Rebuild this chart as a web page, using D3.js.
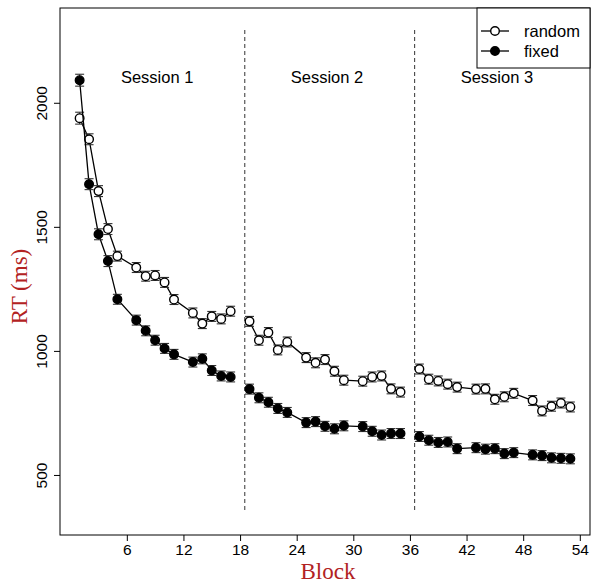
<!DOCTYPE html>
<html>
<head>
<meta charset="utf-8">
<script src="https://cdn.jsdelivr.net/npm/d3@7"></script>
<style>
  body { margin: 0; background: #fff; }
  svg text { font-family: "Liberation Sans", Arial, sans-serif; }
</style>
</head>
<body>
<div id="chart"></div>
<script>
// blocks per session (every 6th block is missing)
const sessions = [
  { label: "Session 1", blocks: [1,2,3,4,5,7,8,9,10,11,13,14,15,16,17] },
  { label: "Session 2", blocks: [19,20,21,22,23,25,26,27,28,29,31,32,33,34,35] },
  { label: "Session 3", blocks: [37,38,39,40,41,43,44,45,46,47,49,50,51,52,53] }
];
const randomRT = [
  [1938,1853,1644,1491,1382,1336,1301,1304,1276,1207,1153,1110,1139,1129,1160],
  [1119,1043,1074,1004,1036,973,952,965,918,882,878,895,899,847,834],
  [927,886,879,866,854,846,847,805,815,829,800,758,777,790,774]
];
const fixedRT = [
  [2091,1672,1470,1362,1208,1124,1081,1043,1010,986,955,968,921,899,895],
  [846,811,793,768,752,711,715,696,686,698,695,676,661,667,667],
  [655,640,631,633,606,610,604,606,586,590,581,578,569,567,565]
];
const randomSE = [
  [24,22,22,22,20,20,20,20,20,20,20,20,20,20,20],
  [20,20,20,20,20,20,20,20,20,20,20,20,20,20,20],
  [20,20,20,20,20,20,20,20,20,20,20,20,20,20,20]
];
const fixedSE = [
  [24,22,22,22,20,20,20,20,20,20,20,20,20,20,20],
  [20,20,20,20,20,20,20,20,20,20,20,20,20,20,20],
  [20,20,20,20,20,20,20,20,20,20,20,20,20,20,20]
];
const xTicks = [6,12,18,24,30,36,42,48,54];
const yTicks = [500,1000,1500,2000];
const sessionBreaks = [18.5, 36.5];

const W = 592, H = 585;
const plot = { left: 60, right: 590, top: 8, bottom: 535 };

const svg = d3.select("#chart").append("svg")
  .attr("width", W).attr("height", H);

const x = d3.scaleLinear().domain([-1.08, 55.08]).range([plot.left, plot.right]);
const y = d3.scaleLinear().domain([258, 2382]).range([plot.bottom, plot.top]);

// ── axes ───────────────────────────────────────────────────────────────────
const xAxis = svg.append("g")
  .attr("transform", `translate(0,${plot.bottom})`)
  .call(d3.axisBottom(x).tickValues(xTicks).tickSize(6).tickPadding(3));
xAxis.select(".domain").remove();
xAxis.selectAll("text").style("font-size", "15.5px").attr("fill", "#000");

const yAxis = svg.append("g")
  .attr("transform", `translate(${plot.left},0)`)
  .call(d3.axisLeft(y).tickValues(yTicks).tickSize(6).tickFormat(d3.format("d")));
yAxis.select(".domain").remove();
yAxis.selectAll("text")
  .style("font-size", "15.5px").attr("fill", "#000")
  .attr("text-anchor", "middle")
  .attr("x", 0).attr("dy", "0")
  .attr("y", 0)
  .attr("transform", "translate(-13,0) rotate(-90)");

svg.append("rect")
  .attr("x", plot.left).attr("y", plot.top)
  .attr("width", plot.right - plot.left).attr("height", plot.bottom - plot.top)
  .attr("fill", "none").attr("stroke", "#000").attr("stroke-width", 1);

// axis titles
svg.append("text")
  .attr("x", (plot.left + plot.right) / 2 + 3).attr("y", 579)
  .attr("text-anchor", "middle")
  .style("font-family", "'Liberation Serif', serif").style("font-size", "23px")
  .attr("fill", "#B22222").text("Block");
svg.append("text")
  .attr("transform", `translate(27,${(plot.top + plot.bottom) / 2 + 15}) rotate(-90)`)
  .attr("text-anchor", "middle")
  .style("font-family", "'Liberation Serif', serif").style("font-size", "23px")
  .attr("fill", "#B22222").text("RT (ms)");

// session separators
svg.selectAll(".brk").data(sessionBreaks).join("line")
  .attr("x1", d => x(d)).attr("x2", d => x(d))
  .attr("y1", 30).attr("y2", 510)
  .attr("stroke", "#333").attr("stroke-width", 1).attr("stroke-dasharray", "4,3");

// session labels
svg.selectAll(".sess").data(sessions).join("text")
  .attr("x", d => x((d.blocks[0] + d.blocks[d.blocks.length - 1]) / 2) + 2)
  .attr("y", 83)
  .attr("text-anchor", "middle")
  .style("font-size", "16.5px")
  .text(d => d.label);

// ── series ─────────────────────────────────────────────────────────────────
const line = d3.line().x(d => x(d.block)).y(d => y(d.rt));

function drawSeries(values, errs, fill) {
  sessions.forEach((s, i) => {
    const pts = s.blocks.map((b, j) => ({ block: b, rt: values[i][j], se: errs[i][j] }));
    const g = svg.append("g");
    g.append("path").datum(pts)
      .attr("d", line).attr("fill", "none")
      .attr("stroke", "#000").attr("stroke-width", 1.3);
    const eb = g.selectAll(".eb").data(pts).join("g").attr("stroke", "#333").attr("stroke-width", 1.1);
    eb.append("line")
      .attr("x1", d => x(d.block)).attr("x2", d => x(d.block))
      .attr("y1", d => y(d.rt - d.se)).attr("y2", d => y(d.rt + d.se));
    [1, -1].forEach(sgn => {
      eb.append("line")
        .attr("x1", d => x(d.block) - 4.5).attr("x2", d => x(d.block) + 4.5)
        .attr("y1", d => y(d.rt + sgn * d.se)).attr("y2", d => y(d.rt + sgn * d.se));
    });
    g.selectAll("circle").data(pts).join("circle")
      .attr("cx", d => x(d.block)).attr("cy", d => y(d.rt)).attr("r", 4.3)
      .attr("fill", fill).attr("stroke", "#000").attr("stroke-width", 1.4);
  });
}
drawSeries(randomRT, randomSE, "#fff");
drawSeries(fixedRT, fixedSE, "#000");

// ── legend ─────────────────────────────────────────────────────────────────
const lg = svg.append("g");
lg.append("rect")
  .attr("x", 477).attr("y", plot.top).attr("width", plot.right - 477).attr("height", 60)
  .attr("fill", "#fff").attr("stroke", "#000").attr("stroke-width", 1);
[{ name: "random", fill: "#fff" }, { name: "fixed", fill: "#000" }].forEach((d, i) => {
  const cy = 31 + i * 20;
  lg.append("line").attr("x1", 481).attr("x2", 509).attr("y1", cy).attr("y2", cy)
    .attr("stroke", "#000").attr("stroke-width", 1.3);
  lg.append("circle").attr("cx", 495).attr("cy", cy).attr("r", 4.3)
    .attr("fill", d.fill).attr("stroke", "#000").attr("stroke-width", 1.4);
  lg.append("text").attr("x", 524).attr("y", cy + 6).style("font-size", "16.5px").text(d.name);
});
</script>
</body>
</html>
